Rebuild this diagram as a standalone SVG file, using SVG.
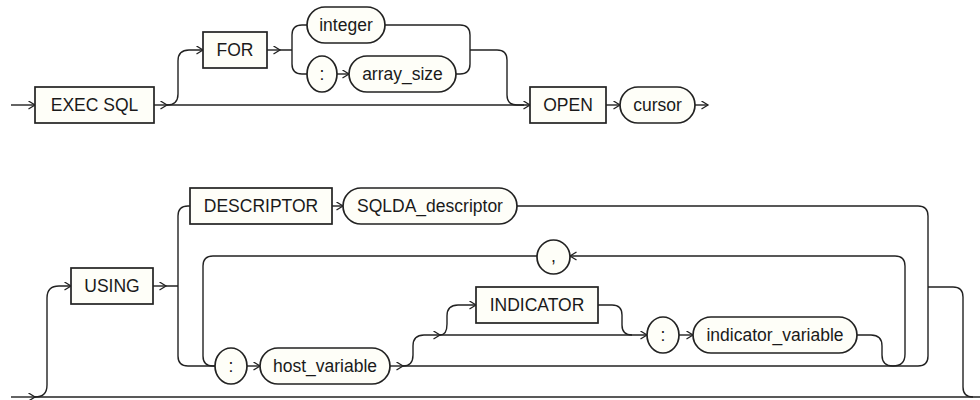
<svg xmlns="http://www.w3.org/2000/svg" width="980" height="400" viewBox="0 0 980 400">
<style>
.bx{fill:#fefef8;stroke:#222;stroke-width:1.7}
.ln{fill:none;stroke:#222;stroke-width:1.4}
.ar{fill:none;stroke:#222;stroke-width:1.4;marker-end:url(#a)}
text{font-family:"Liberation Sans",Arial,sans-serif;font-size:17.5px;fill:#1a1a1a;text-anchor:middle}
</style>
<defs>
<marker id="a" markerUnits="userSpaceOnUse" markerWidth="10" markerHeight="10" refX="7" refY="4.5" orient="auto" viewBox="0 0 10 10">
<path d="M0.5,0.5 L7,4.5 L0.5,8.5" fill="none" stroke="#222" stroke-width="1.3"/>
</marker>
</defs>
<rect width="980" height="400" fill="#fff"/>
<g id="connectors">
<path class="ar" d="M11,105 H35"/>
<path class="ar" d="M154,105 H167"/>
<path class="ar" d="M167,105 H530"/>
<path class="ar" d="M167,105 Q178,105 178,94 V61 Q178,50 189,50 H203"/>
<path class="ar" d="M267,50 H280"/>
<path class="ln" d="M280,50 H292 M292,50 V35 Q292,25 302,25 H307 M292,50 V64 Q292,74 302,74 H307"/>
<path class="ar" d="M337,74 H349"/>
<path class="ln" d="M385,25 H460 Q470,25 470,35 V50 M456,74 H460 Q470,74 470,64 V50"/>
<path class="ln" d="M470,50 H497 Q507,50 507,60 V95 Q507,105 517,105 H524"/>
<path class="ar" d="M606,105 H620"/>
<path class="ar" d="M695,105 H708"/>
<path class="ar" d="M11,397 H35"/>
<path class="ln" d="M35,397 H980"/>
<path class="ar" d="M35,397 Q47,397 47,385 V298 Q47,286 59,286 H71"/>
<path class="ar" d="M153,286 H166"/>
<path class="ln" d="M166,286 H178 M178,286 V216 Q178,206 188,206 H190 M178,286 V356 Q178,366 188,366 H215"/>
<path class="ar" d="M332,206 H343"/>
<path class="ln" d="M517,206 H918 Q928,206 928,216 V356 Q928,366 918,366"/>
<path class="ln" d="M928,287 H953 Q963,287 963,297 V387 Q963,397 973,397"/>
<path class="ar" d="M893,366 Q905,366 905,354 V266 Q905,256 895,256 H570"/>
<path class="ln" d="M537,256 H213 Q203,256 203,266 V356 Q203,366 213,366 H215"/>
<path class="ar" d="M247,366 H260"/>
<path class="ar" d="M390,366 H403"/>
<path class="ln" d="M403,366 H918"/>
<path class="ar" d="M403,366 Q413,366 413,355 V346 Q413,335 424,335 H440"/>
<path class="ar" d="M440,335 H647"/>
<path class="ar" d="M440,335 Q447,335 447,324 V316 Q447,305 458,305 H476"/>
<path class="ln" d="M598,305 H612 Q622,305 622,315 V325 Q622,335 632,335"/>
<path class="ar" d="M679,335 H693"/>
<path class="ln" d="M857,335 H871 Q882,335 882,346 V355 Q882,366 893,366"/>
</g>
<g id="exec_sql"><rect class="bx" x="35" y="87" width="119" height="36"/><text x="94.5" y="111">EXEC SQL</text></g>
<g id="for"><rect class="bx" x="203" y="32" width="64" height="36"/><text x="235" y="56">FOR</text></g>
<g id="integer"><rect class="bx" x="307" y="7" width="78" height="36" rx="18"/><text x="346" y="31">integer</text></g>
<g id="colon1"><rect class="bx" x="307" y="56" width="30" height="36" rx="15" ry="18"/><text x="322" y="80">:</text></g>
<g id="array_size"><rect class="bx" x="349" y="56" width="107" height="36" rx="18"/><text x="402.5" y="80">array_size</text></g>
<g id="open"><rect class="bx" x="530" y="87" width="76" height="36"/><text x="568" y="111">OPEN</text></g>
<g id="cursor"><rect class="bx" x="620" y="87" width="75" height="36" rx="18"/><text x="657.5" y="111">cursor</text></g>
<g id="using"><rect class="bx" x="71" y="268" width="82" height="36"/><text x="112" y="292">USING</text></g>
<g id="descriptor"><rect class="bx" x="190" y="188" width="142" height="36"/><text x="261" y="212">DESCRIPTOR</text></g>
<g id="sqlda_descriptor"><rect class="bx" x="343" y="188" width="174" height="36" rx="18"/><text x="430" y="212">SQLDA_descriptor</text></g>
<g id="comma"><rect class="bx" x="537" y="240" width="33" height="34" rx="16.5" ry="17"/><text x="553.5" y="262">,</text></g>
<g id="colon2"><rect class="bx" x="215" y="348" width="32" height="36" rx="16" ry="18"/><text x="231" y="372">:</text></g>
<g id="host_variable"><rect class="bx" x="260" y="348" width="130" height="36" rx="18"/><text x="325" y="372">host_variable</text></g>
<g id="indicator"><rect class="bx" x="476" y="287" width="122" height="36"/><text x="537" y="311">INDICATOR</text></g>
<g id="colon3"><rect class="bx" x="647" y="317" width="32" height="36" rx="16" ry="18"/><text x="663" y="341">:</text></g>
<g id="indicator_variable"><rect class="bx" x="693" y="317" width="164" height="36" rx="18"/><text x="775" y="341">indicator_variable</text></g>
</svg>
